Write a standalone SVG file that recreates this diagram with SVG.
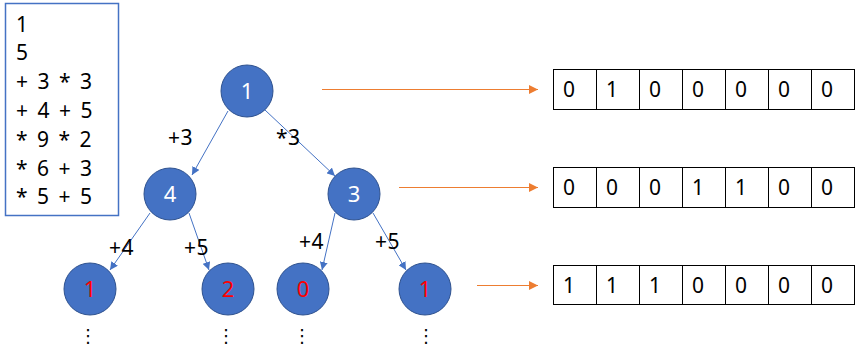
<svg xmlns="http://www.w3.org/2000/svg" width="856" height="361" viewBox="0 0 856 361">
<style>
text{font-family:"Noto Sans","Liberation Sans",sans-serif;}
.t{font-size:21px;fill:#000;}
.in{word-spacing:4px;}
.lb{font-size:21px;fill:#000;letter-spacing:0.5px;}
.node circle{fill:#4472C4;stroke:#2F528F;stroke-width:1;}
.nt{font-size:22px;fill:#fff;text-anchor:middle;}
.leaf{fill:#FF0000;}
.edge{stroke:#4472C4;stroke-width:1;fill:none;marker-end:url(#ab);}
.oe{stroke:#ED7D31;stroke-width:1;fill:none;marker-end:url(#ao);}
.cell{fill:#fff;stroke:#000;stroke-width:1;}
.dots{font-size:18px;fill:#000;text-anchor:middle;font-family:"DejaVu Sans",sans-serif;}
</style>
<defs>
<marker id="ab" viewBox="0 0 10 10" refX="10" refY="5" markerWidth="8" markerHeight="8" markerUnits="userSpaceOnUse" orient="auto"><path d="M0,0 L10,5 L0,10 z" fill="#4472C4"/></marker>
<marker id="ao" viewBox="0 0 10 10" refX="10" refY="5" markerWidth="9" markerHeight="9" markerUnits="userSpaceOnUse" orient="auto"><path d="M0,0 L10,5 L0,10 z" fill="#ED7D31"/></marker>
</defs>
<rect width="856" height="361" fill="#fff"/>
<g id="input">
<rect x="5.5" y="3.5" width="113" height="212" fill="#fff" stroke="#4472C4" stroke-width="1.5"/>
<text class="t in" x="16" y="32">1</text>
<text class="t in" x="16" y="60">5</text>
<text class="t in" x="16" y="89">+ 3 * 3</text>
<text class="t in" x="16" y="118">+ 4 + 5</text>
<text class="t in" x="16" y="147">* 9 * 2</text>
<text class="t in" x="16" y="176">* 6 + 3</text>
<text class="t in" x="16" y="204">* 5 + 5</text>
</g>
<g id="connectors">
<line class="edge" x1="228" y1="111" x2="192" y2="175"/>
<line class="edge" x1="265" y1="110" x2="335" y2="176"/>
<line class="edge" x1="150" y1="213" x2="110" y2="270"/>
<line class="edge" x1="189" y1="213" x2="209" y2="270"/>
<line class="edge" x1="335" y1="213" x2="322" y2="270"/>
<line class="edge" x1="373" y1="213" x2="406" y2="270"/>
<line class="oe" x1="322" y1="89.5" x2="538" y2="89.5"/>
<line class="oe" x1="399" y1="187.5" x2="538" y2="187.5"/>
<line class="oe" x1="477" y1="285.5" x2="538" y2="285.5"/>
<text class="lb" x="168" y="145">+3</text>
<text class="lb" x="276" y="145">*3</text>
<text class="lb" x="109" y="255">+4</text>
<text class="lb" x="184" y="255">+5</text>
<text class="lb" x="299" y="249">+4</text>
<text class="lb" x="375" y="249">+5</text>
</g>
<g id="n1" class="node"><circle cx="247" cy="91" r="26"/><text class="nt" x="247" y="99">1</text></g>
<g id="n4" class="node"><circle cx="170" cy="194" r="26"/><text class="nt" x="170" y="202">4</text></g>
<g id="n3" class="node"><circle cx="354" cy="194" r="26"/><text class="nt" x="354" y="202">3</text></g>
<g id="l1" class="node"><circle cx="90" cy="289" r="26"/><text class="nt leaf" x="90" y="297">1</text></g>
<g id="l2" class="node"><circle cx="228" cy="289" r="26"/><text class="nt leaf" x="228" y="297">2</text></g>
<g id="l3" class="node"><circle cx="303" cy="289" r="26"/><text class="nt leaf" x="303" y="297">0</text></g>
<g id="l4" class="node"><circle cx="425" cy="289" r="26"/><text class="nt leaf" x="425" y="297">1</text></g>
<g id="dots">
<text class="dots" x="88" y="342">⋮</text>
<text class="dots" x="226" y="342">⋮</text>
<text class="dots" x="302" y="342">⋮</text>
<text class="dots" x="426" y="342">⋮</text>
</g>
<g id="array1">
<rect class="cell" x="553.5" y="69.5" width="43" height="40"/>
<rect class="cell" x="596.5" y="69.5" width="43" height="40"/>
<rect class="cell" x="639.5" y="69.5" width="43" height="40"/>
<rect class="cell" x="682.5" y="69.5" width="43" height="40"/>
<rect class="cell" x="725.5" y="69.5" width="43" height="40"/>
<rect class="cell" x="768.5" y="69.5" width="43" height="40"/>
<rect class="cell" x="811.5" y="69.5" width="43" height="40"/>
<text class="t" x="563" y="97">0</text><text class="t" x="606" y="97">1</text><text class="t" x="649" y="97">0</text><text class="t" x="692" y="97">0</text><text class="t" x="735" y="97">0</text><text class="t" x="778" y="97">0</text><text class="t" x="821" y="97">0</text>
</g>
<g id="array2">
<rect class="cell" x="553.5" y="167.5" width="43" height="40"/>
<rect class="cell" x="596.5" y="167.5" width="43" height="40"/>
<rect class="cell" x="639.5" y="167.5" width="43" height="40"/>
<rect class="cell" x="682.5" y="167.5" width="43" height="40"/>
<rect class="cell" x="725.5" y="167.5" width="43" height="40"/>
<rect class="cell" x="768.5" y="167.5" width="43" height="40"/>
<rect class="cell" x="811.5" y="167.5" width="43" height="40"/>
<text class="t" x="563" y="195">0</text><text class="t" x="606" y="195">0</text><text class="t" x="649" y="195">0</text><text class="t" x="692" y="195">1</text><text class="t" x="735" y="195">1</text><text class="t" x="778" y="195">0</text><text class="t" x="821" y="195">0</text>
</g>
<g id="array3">
<rect class="cell" x="553.5" y="265.5" width="43" height="39"/>
<rect class="cell" x="596.5" y="265.5" width="43" height="39"/>
<rect class="cell" x="639.5" y="265.5" width="43" height="39"/>
<rect class="cell" x="682.5" y="265.5" width="43" height="39"/>
<rect class="cell" x="725.5" y="265.5" width="43" height="39"/>
<rect class="cell" x="768.5" y="265.5" width="43" height="39"/>
<rect class="cell" x="811.5" y="265.5" width="43" height="39"/>
<text class="t" x="563" y="293">1</text><text class="t" x="606" y="293">1</text><text class="t" x="649" y="293">1</text><text class="t" x="692" y="293">0</text><text class="t" x="735" y="293">0</text><text class="t" x="778" y="293">0</text><text class="t" x="821" y="293">0</text>
</g>
</svg>
